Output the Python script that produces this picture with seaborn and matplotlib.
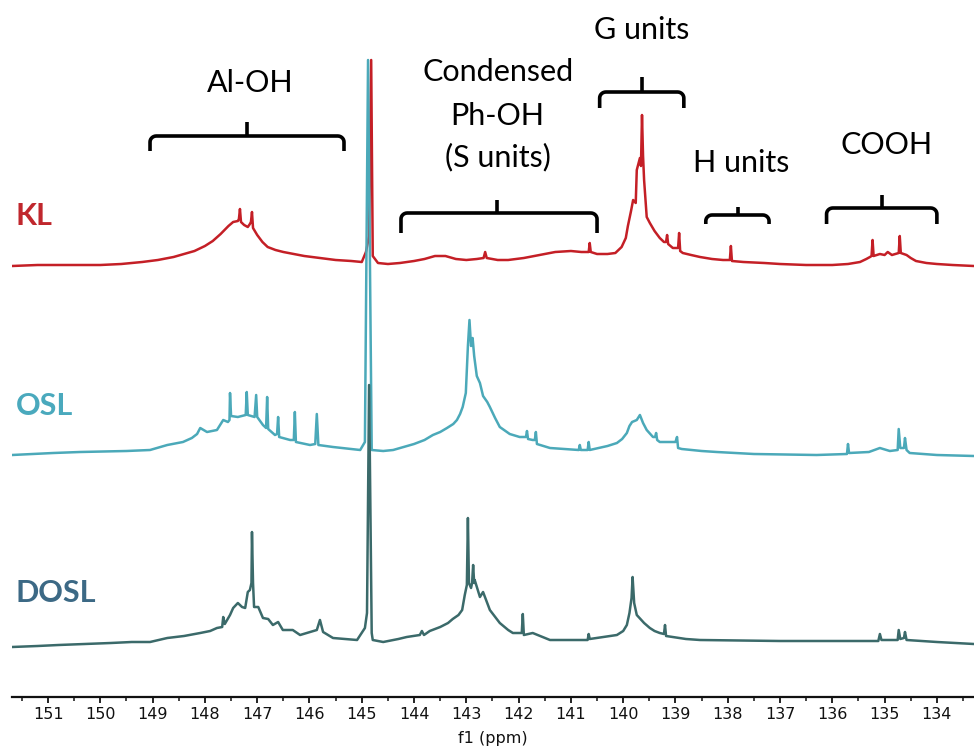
import numpy as np
import pandas as pd
import matplotlib
matplotlib.use("Agg")
import matplotlib.pyplot as plt
import seaborn as sns

# ---------------- data ----------------
samples = ["KL", "OSL", "DOSL"]
offsets = [431, 241, 54]          # vertical stacking offset of each trace
colors = ["#c41f26", "#4ba9b9", "#3b6a6a"]
label_colors = ["#c0272d", "#4aa9bd", "#3c6985"]

kl_ppm = [151.69, 151.2, 150.64, 150.3, 150.0, 149.6, 149.2, 148.9, 148.6, 148.4,
          148.2, 148.0, 147.85, 147.7, 147.55, 147.46, 147.37, 147.35, 147.33, 147.31,
          147.25, 147.18, 147.14, 147.12, 147.10, 147.08, 147.0, 146.9, 146.8, 146.65,
          146.5, 146.3, 146.1, 145.8, 145.5, 145.2, 145.00, 144.92, 144.86, 144.82,
          144.79, 144.69, 144.5, 144.27, 144.0, 143.8, 143.6, 143.4, 143.2, 143.0,
          142.8, 142.67, 142.64, 142.61, 142.4, 142.2, 141.9, 141.6, 141.3, 141.0,
          140.8, 140.66, 140.64, 140.62, 140.5, 140.3, 140.15, 140.03, 139.95, 139.91,
          139.85, 139.81, 139.76, 139.74, 139.68, 139.66, 139.64, 139.62, 139.60, 139.55,
          139.49, 139.40, 139.30, 139.22, 139.18, 139.16, 139.14, 139.05, 138.95, 138.93,
          138.91, 138.86, 138.7, 138.53, 138.3, 138.09, 137.96, 137.94, 137.92, 137.7,
          137.3, 137.0, 136.5, 136.0, 135.7, 135.47, 135.35, 135.28, 135.25, 135.23,
          135.21, 135.09, 135.00, 134.94, 134.86, 134.73, 134.71, 134.69, 134.58, 134.5,
          134.4, 134.2, 134.0, 133.7, 133.29]
kl_int = [0, 1, 1, 1, 1, 2, 4, 6, 9, 12,
          15, 20, 25, 32, 40, 44, 45, 47, 57, 44,
          41, 39, 42, 44, 54, 38, 31, 24, 19, 16,
          14, 12, 10, 8, 6, 5, 4, 14, 30, 206,
          10, 3, 2, 3, 5, 7, 10, 10, 7, 6,
          7, 8, 14, 8, 6, 6, 8, 11, 14, 15,
          14, 14, 23, 14, 12, 12, 13, 19, 28, 40,
          55, 66, 63, 96, 108, 100, 151, 110, 86, 49,
          43, 35, 28, 24, 24, 31, 22, 18, 18, 33,
          15, 13, 11, 9, 7, 6, 6, 20, 5, 4,
          3, 2, 1, 1, 2, 4, 7, 9, 10, 26,
          10, 12, 11, 14, 11, 13, 30, 13, 11, 8,
          5, 3, 2, 1, 0]

osl_ppm = [151.69, 151.3, 150.9, 150.39, 150.0, 149.5, 149.05, 148.72, 148.42, 148.25,
           148.15, 148.09, 147.96, 147.77, 147.65, 147.56, 147.53, 147.52, 147.50, 147.37,
           147.22, 147.20, 147.18, 147.05, 147.02, 147.00, 146.89, 146.83, 146.81, 146.79,
           146.66, 146.62, 146.60, 146.58, 146.37, 146.30, 146.28, 146.26, 145.99, 145.89,
           145.86, 145.83, 145.55, 145.03, 144.94, 144.88, 144.81, 144.59, 144.4, 144.27,
           144.0, 143.8, 143.64, 143.5, 143.37, 143.25, 143.18, 143.12, 143.07, 143.01,
           142.97, 142.94, 142.91, 142.88, 142.85, 142.80, 142.74, 142.68, 142.6, 142.55,
           142.45, 142.36, 142.25, 142.17, 141.98, 141.86, 141.84, 141.82, 141.73, 141.69,
           141.67, 141.65, 141.59, 141.40, 140.85, 140.83, 140.81, 140.68, 140.66, 140.64,
           140.3, 140.12, 140.02, 139.93, 139.88, 139.83, 139.74, 139.68, 139.62, 139.55,
           139.43, 139.39, 139.37, 139.35, 139.30, 139.11, 139.00, 138.97, 138.95, 138.88,
           138.5, 138.21, 137.5, 136.30, 135.72, 135.70, 135.68, 135.3, 135.09, 134.90,
           134.75, 134.73, 134.70, 134.63, 134.61, 134.58, 134.52, 134.0, 133.29]
osl_int = [1, 2, 3, 4, 4.5, 5, 6, 11, 14, 18,
           22, 28, 24, 26, 36, 34, 36, 63, 40, 39,
           41, 64, 41, 39, 61, 39, 31, 28, 59, 27,
           21, 22, 39, 19, 16, 16, 44, 14, 11, 12,
           42, 11, 9, 6, 14, 396, 6, 5, 6, 8,
           12, 16, 21, 24, 28, 32, 36, 42, 49, 63,
           110, 136, 110, 118, 100, 80, 73, 60, 54, 49,
           38, 29, 25, 22, 19, 19, 25, 17, 16, 16,
           24, 12, 11, 8, 6, 11, 6, 6, 14, 6,
           10, 13, 17, 23, 30, 34, 36, 41, 33, 26,
           19, 19, 23, 16, 14, 14, 14, 19, 8, 7,
           5, 4, 2, 1, 2, 12, 3, 4, 8, 5,
           6, 27, 8, 8, 18, 6, 3, 1, 0]

dosl_ppm = [151.69, 151.2, 150.8, 150.3, 149.8, 149.4, 149.05, 148.72, 148.4, 148.09,
            147.9, 147.77, 147.67, 147.65, 147.62, 147.52, 147.46, 147.37, 147.29, 147.23,
            147.18, 147.14, 147.11, 147.10, 147.08, 147.06, 146.98, 146.89, 146.79, 146.70,
            146.60, 146.51, 146.32, 146.18, 145.86, 145.80, 145.74, 145.55, 145.09, 144.94,
            144.90, 144.86, 144.81, 144.79, 144.59, 144.3, 144.14, 143.89, 143.85, 143.81,
            143.7, 143.5, 143.35, 143.26, 143.15, 143.08, 143.03, 142.99, 142.97, 142.95,
            142.91, 142.89, 142.87, 142.85, 142.84, 142.74, 142.68, 142.55, 142.36, 142.2,
            142.11, 141.94, 141.92, 141.90, 141.73, 141.40, 140.77, 140.68, 140.66, 140.64,
            140.12, 140.0, 139.93, 139.88, 139.84, 139.82, 139.79, 139.74, 139.6, 139.49,
            139.4, 139.30, 139.22, 139.20, 139.18, 138.8, 138.53, 137.00, 135.12, 135.09,
            135.06, 134.75, 134.73, 134.70, 134.63, 134.61, 134.58, 134.0, 133.29]
dosl_int = [-4, -3, -2, -1, 0, 1, 1, 5, 7, 10,
            12, 15, 16, 26, 19, 28, 35, 40, 36, 35,
            51, 53, 60, 111, 60, 36, 36, 25, 24, 18,
            21, 13, 13, 8, 13, 23, 11, 5, 3, 15,
            30, 258, 10, 3, 1, 4, 6, 8, 12, 8,
            12, 16, 20, 24, 28, 33, 48, 58, 125, 60,
            55, 60, 78, 60, 63, 46, 51, 33, 20, 13,
            10, 10, 29, 8, 10, 3, 3, 3, 9, 4,
            8, 12, 18, 30, 45, 66, 40, 28, 20, 15,
            12, 10, 9, 18, 7, 4, 3, 2, 2, 9,
            3, 3, 13, 4, 5, 11, 3, 1, -1]

tick_values = list(range(134, 152))

# ---------------- build long-form table ----------------
frames = []
for name, off, ppm, inten in zip(samples, offsets,
                                 [kl_ppm, osl_ppm, dosl_ppm],
                                 [kl_int, osl_int, dosl_int]):
    frames.append(pd.DataFrame({"ppm": ppm,
                                "signal": np.asarray(inten, float) + off,
                                "sample": name}))
df = pd.concat(frames, ignore_index=True)

# ---------------- figure ----------------
sns.set_theme(style="white")
plt.rcParams["font.family"] = ["DejaVu Sans"]

W, H = 974, 749
fig = plt.figure(figsize=(W / 100, H / 100), dpi=100)
ax = fig.add_axes([12 / W, 52 / H, 962 / W, 697 / H])

sns.lineplot(data=df, x="ppm", y="signal", hue="sample", hue_order=samples,
             palette=dict(zip(samples, colors)), estimator=None, sort=True,
             legend=False, linewidth=1.8, ax=ax)

ax.set_xlim(151.69, 133.29)
ax.set_ylim(0, 697)
ax.set_xticks(tick_values)
ax.set_xticks(np.arange(133.5, 152, 1.0), minor=True)
ax.set_xticklabels([str(t) for t in tick_values], fontsize=11.5, color="#111111")
ax.set_yticks([])
ax.set_xlabel("f1 (ppm)", fontsize=11.5, color="#111111", labelpad=7)
ax.set_ylabel("")
for s in ["top", "left", "right"]:
    ax.spines[s].set_visible(False)
ax.spines["bottom"].set_linewidth(1.6)
ax.spines["bottom"].set_color("#111111")
ax.tick_params(axis="x", which="major", direction="out", length=4, width=1.3,
               colors="#111111", pad=3, bottom=True)
ax.tick_params(axis="x", which="minor", direction="out", length=3, width=1.1,
               colors="#111111", bottom=True)

# ---------------- sample labels ----------------
for name, off, c in zip(samples, offsets, label_colors):
    ax.text(151.62, off + 50, name, color=c, fontsize=22, fontweight="bold",
            family=["Lato", "DejaVu Sans"], ha="left", va="center")


# ---------------- region braces ----------------
def brace(x0, x1, xc, yh, yend, ytop):
    rx = 0.12
    ry = 6
    t = np.linspace(0, np.pi / 2, 8)
    lx = x0 - rx * (1 - np.cos(t))
    ly = yh - ry * (1 - np.sin(t))
    xs = [x0] + list(lx)
    ys = [yend] + list(ly)
    rxs = x1 + rx * (1 - np.cos(t[::-1]))
    rys = yh - ry * (1 - np.sin(t[::-1]))
    xs += list(rxs) + [x1]
    ys += list(rys) + [yend]
    ax.plot(xs, ys, color="black", lw=2.6, solid_capstyle="butt",
            solid_joinstyle="round", clip_on=False)
    ax.plot([xc, xc], [yh, ytop], color="black", lw=2.6,
            solid_capstyle="butt", clip_on=False)


brace(149.05, 145.34, 147.20, 561, 546, 575)
brace(144.25, 140.50, 142.41, 484, 464, 497)
brace(140.45, 138.84, 139.64, 605, 589, 620)
brace(138.42, 137.21, 137.81, 482, 473, 490)
brace(136.11, 134.00, 135.05, 489, 473, 502)

afont = dict(fontsize=22, color="black", family=["Lato", "DejaVu Sans"],
             ha="center", va="baseline")
ax.text(147.14, 605, "Al-OH", **afont)
ax.text(142.40, 616, "Condensed", **afont)
ax.text(142.40, 572, "Ph-OH", **afont)
ax.text(142.40, 531, "(S units)", **afont)
ax.text(139.64, 658, "G units", **afont)
ax.text(137.75, 525, "H units", **afont)
ax.text(134.96, 543, "COOH", **afont)

fig.savefig("out.png", dpi=100)
